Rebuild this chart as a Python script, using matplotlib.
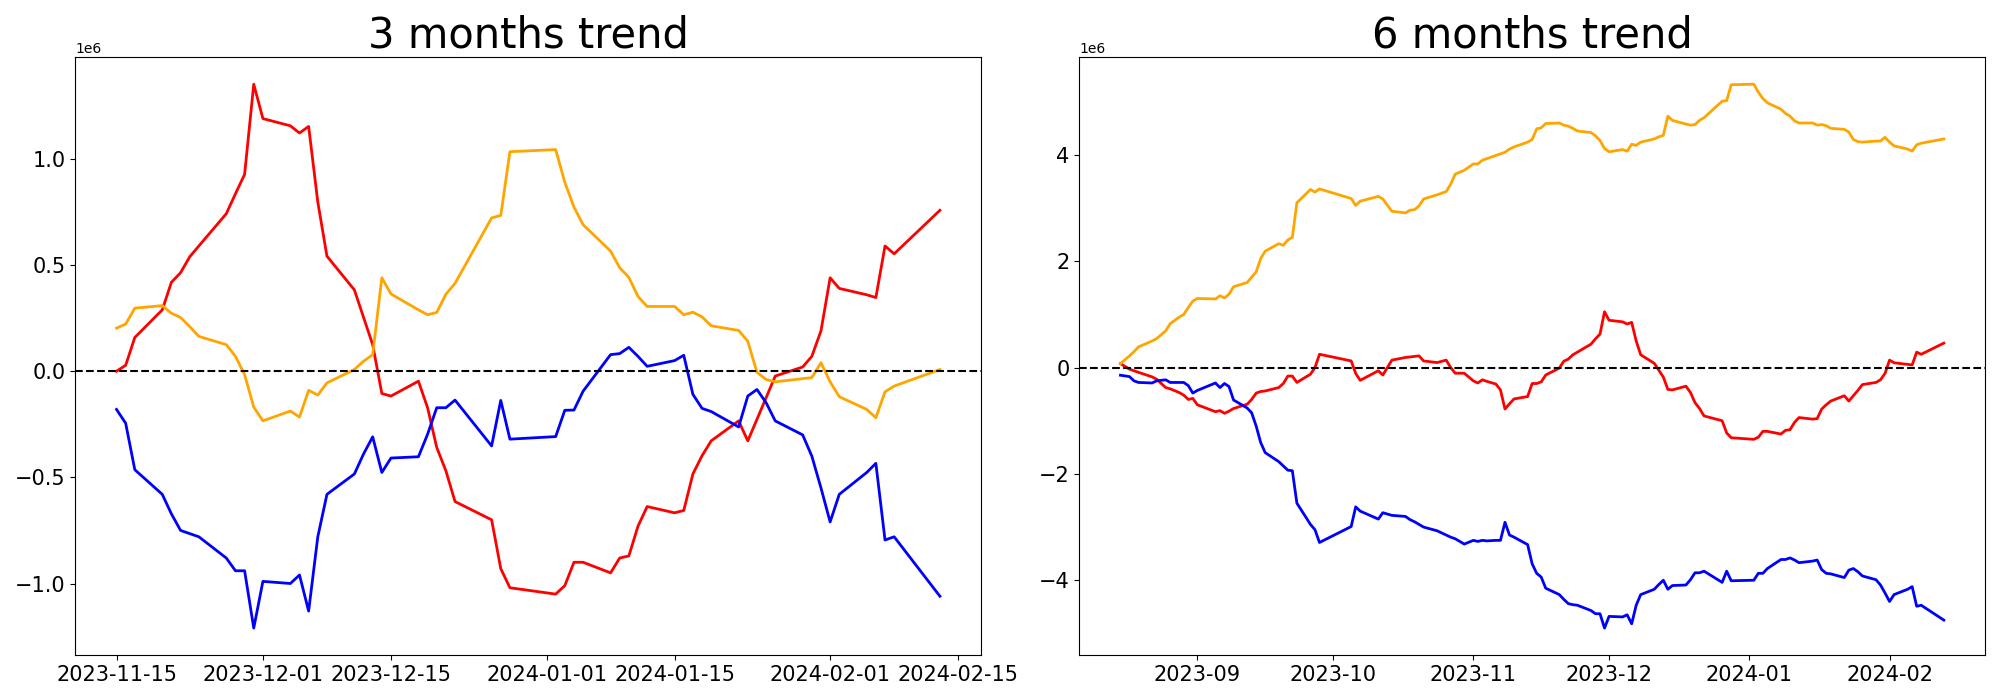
import numpy as np
import matplotlib
matplotlib.use("Agg")
import matplotlib.pyplot as plt

# ---------------- 3 months data (values in millions) ----------------
dates_3m = [
    "2023-11-15", "2023-11-16", "2023-11-17", "2023-11-20", "2023-11-21", "2023-11-22",
    "2023-11-23", "2023-11-24", "2023-11-27", "2023-11-28", "2023-11-29", "2023-11-30",
    "2023-12-01", "2023-12-04", "2023-12-05", "2023-12-06", "2023-12-07", "2023-12-08",
    "2023-12-11", "2023-12-12", "2023-12-13", "2023-12-14", "2023-12-15", "2023-12-18",
    "2023-12-19", "2023-12-20", "2023-12-21", "2023-12-22", "2023-12-26", "2023-12-27",
    "2023-12-28", "2024-01-02", "2024-01-03", "2024-01-04", "2024-01-05", "2024-01-08",
    "2024-01-09", "2024-01-10", "2024-01-11", "2024-01-12", "2024-01-15", "2024-01-16",
    "2024-01-17", "2024-01-18", "2024-01-19", "2024-01-22", "2024-01-23", "2024-01-24",
    "2024-01-25", "2024-01-26", "2024-01-29", "2024-01-30", "2024-01-31", "2024-02-01",
    "2024-02-02", "2024-02-05", "2024-02-06", "2024-02-07", "2024-02-08", "2024-02-13",
]
red_3m = [
    0.0, 0.028, 0.159, 0.289, 0.419, 0.464, 0.539, 0.59, 0.742, 0.836, 0.927, 1.352,
    1.19, 1.156, 1.122, 1.153, 0.797, 0.542, 0.383, 0.254, 0.125, -0.105, -0.117, -0.047,
    -0.172, -0.359, -0.469, -0.614, -0.70, -0.93, -1.02, -1.05, -1.01, -0.90, -0.90, -0.95,
    -0.88, -0.87, -0.73, -0.6375, -0.667, -0.656, -0.484, -0.398, -0.328, -0.234, -0.328, -0.227,
    -0.125, -0.023, 0.02, 0.07, 0.19, 0.44, 0.39, 0.36, 0.347, 0.59, 0.553, 0.758,
]
orange_3m = [
    0.203, 0.222, 0.297, 0.309, 0.273, 0.253, 0.21, 0.164, 0.125, 0.07, -0.016, -0.169,
    -0.234, -0.1875, -0.216, -0.09, -0.1125, -0.055, 0.008, 0.047, 0.078, 0.44, 0.364, 0.289,
    0.266, 0.277, 0.3625, 0.414, 0.722, 0.734, 1.034, 1.044, 0.89, 0.773, 0.69, 0.566,
    0.4875, 0.442, 0.352, 0.305, 0.305, 0.266, 0.278, 0.256, 0.214, 0.192, 0.141, -0.005,
    -0.039, -0.05, -0.035, -0.03, 0.04, -0.05, -0.12, -0.18, -0.219, -0.097, -0.07, 0.008,
]
blue_3m = [
    -0.18, -0.245, -0.464, -0.58, -0.672, -0.75, -0.765, -0.78, -0.88, -0.94, -0.94, -1.21,
    -0.99, -1.00, -0.96, -1.13, -0.78, -0.58, -0.484, -0.39, -0.309, -0.477, -0.409, -0.403,
    -0.297, -0.172, -0.172, -0.136, -0.352, -0.1375, -0.32, -0.308, -0.184, -0.183, -0.094, 0.078,
    0.083, 0.1125, 0.07, 0.023, 0.05, 0.075, -0.109, -0.175, -0.19, -0.2625, -0.117, -0.086,
    -0.148, -0.234, -0.30, -0.40, -0.55, -0.71, -0.58, -0.477, -0.434, -0.795, -0.78, -1.06,
]

# ---------------- 6 months data (values in millions) ----------------
dates_6m = [
    "2023-08-15", "2023-08-17", "2023-08-18", "2023-08-19", "2023-08-22", "2023-08-23",
    "2023-08-25", "2023-08-26", "2023-08-28", "2023-08-29", "2023-08-30", "2023-08-31",
    "2023-09-01", "2023-09-05", "2023-09-06", "2023-09-07", "2023-09-08", "2023-09-09",
    "2023-09-12", "2023-09-13", "2023-09-14", "2023-09-15", "2023-09-16", "2023-09-19",
    "2023-09-20", "2023-09-21", "2023-09-22", "2023-09-23", "2023-09-26", "2023-09-27",
    "2023-09-28", "2023-10-05", "2023-10-06", "2023-10-07", "2023-10-11", "2023-10-12",
    "2023-10-14", "2023-10-17", "2023-10-18", "2023-10-19", "2023-10-20", "2023-10-21",
    "2023-10-24", "2023-10-26", "2023-10-27", "2023-10-28", "2023-10-30", "2023-11-01",
    "2023-11-02", "2023-11-03", "2023-11-04", "2023-11-06", "2023-11-07", "2023-11-08",
    "2023-11-09", "2023-11-10", "2023-11-13", "2023-11-14",
] + dates_3m
red_6m = [
    0.075, -0.03, -0.06, -0.09, -0.175, -0.22, -0.376, -0.40, -0.47, -0.52, -0.60, -0.58,
    -0.70, -0.83, -0.81, -0.86, -0.82, -0.77, -0.69, -0.60, -0.48, -0.45, -0.44, -0.376,
    -0.30, -0.16, -0.16, -0.28, -0.125, 0.0, 0.25, 0.125, -0.11, -0.24, -0.06, -0.14,
    0.14, 0.19, 0.20, 0.21, 0.22, 0.125, 0.094, 0.14, 0.0, -0.106, -0.106, -0.25,
    -0.29, -0.23, -0.26, -0.31, -0.42, -0.78, -0.68, -0.59, -0.545, -0.30,
    -0.30, -0.27, -0.14, -0.01, 0.12, 0.16, 0.24, 0.29, 0.44, 0.54, 0.63, 1.05,
    0.89, 0.86, 0.82, 0.85, 0.50, 0.24, 0.08, -0.05, -0.18, -0.41, -0.42, -0.35,
    -0.47, -0.66, -0.77, -0.91, -1.00, -1.23, -1.32, -1.35, -1.31, -1.20, -1.20, -1.25,
    -1.18, -1.17, -1.03, -0.94, -0.97, -0.96, -0.78, -0.70, -0.63, -0.53, -0.63, -0.53,
    -0.43, -0.32, -0.28, -0.23, -0.11, 0.14, 0.09, 0.06, 0.05, 0.29, 0.25, 0.46,
]
orange_6m = [
    0.075, 0.22, 0.30, 0.39, 0.50, 0.545, 0.69, 0.826, 0.95, 1.0, 1.13, 1.25,
    1.30, 1.29, 1.35, 1.31, 1.38, 1.52, 1.60, 1.70, 1.80, 2.05, 2.19, 2.33,
    2.30, 2.40, 2.45, 3.10, 3.35, 3.30, 3.36, 3.18, 3.05, 3.13, 3.22, 3.17,
    2.94, 2.91, 2.96, 2.97, 3.04, 3.17, 3.25, 3.31, 3.45, 3.64, 3.71, 3.83,
    3.83, 3.90, 3.93, 3.99, 4.02, 4.05, 4.11, 4.15, 4.24, 4.29,
    4.49, 4.51, 4.59, 4.60, 4.56, 4.54, 4.50, 4.45, 4.42, 4.36, 4.27, 4.12,
    4.06, 4.10, 4.07, 4.20, 4.18, 4.24, 4.30, 4.34, 4.37, 4.73, 4.65, 4.58,
    4.56, 4.57, 4.65, 4.70, 5.01, 5.02, 5.32, 5.33, 5.18, 5.06, 4.98, 4.86,
    4.78, 4.73, 4.64, 4.60, 4.60, 4.56, 4.57, 4.55, 4.50, 4.48, 4.43, 4.29,
    4.25, 4.24, 4.26, 4.26, 4.33, 4.24, 4.17, 4.11, 4.07, 4.19, 4.22, 4.30,
]
blue_6m = [
    -0.144, -0.17, -0.25, -0.28, -0.29, -0.25, -0.23, -0.28, -0.28, -0.28, -0.34, -0.48,
    -0.43, -0.29, -0.376, -0.30, -0.357, -0.61, -0.76, -0.85, -1.10, -1.41, -1.60, -1.77,
    -1.85, -1.93, -1.94, -2.55, -2.95, -3.05, -3.29, -2.99, -2.62, -2.70, -2.85, -2.73,
    -2.78, -2.80, -2.86, -2.90, -2.95, -3.00, -3.07, -3.15, -3.19, -3.22, -3.32, -3.25,
    -3.27, -3.25, -3.26, -3.25, -3.25, -2.91, -3.15, -3.19, -3.33, -3.69,
    -3.87, -3.94, -4.15, -4.27, -4.36, -4.44, -4.46, -4.47, -4.57, -4.63, -4.63, -4.90,
    -4.68, -4.69, -4.65, -4.82, -4.47, -4.27, -4.17, -4.08, -4.00, -4.17, -4.10, -4.09,
    -3.99, -3.86, -3.86, -3.83, -4.04, -3.83, -4.01, -4.00, -3.87, -3.87, -3.78, -3.61,
    -3.61, -3.58, -3.62, -3.67, -3.64, -3.62, -3.80, -3.87, -3.88, -3.95, -3.81, -3.78,
    -3.84, -3.92, -3.99, -4.09, -4.24, -4.40, -4.27, -4.17, -4.12, -4.49, -4.47, -4.75,
]

titles = ["3 months trend", "6 months trend"]
SCALE = 1e6

fig, axes = plt.subplots(1, 2, figsize=(20, 7), dpi=100)
panels = [
    (dates_3m, red_3m, orange_3m, blue_3m),
    (dates_6m, red_6m, orange_6m, blue_6m),
]
for ax, title, (dates, r, o, b) in zip(axes, titles, panels):
    x = np.array(dates, dtype="datetime64[D]")
    ax.plot(x, np.array(r) * SCALE, color="red", linewidth=2)
    ax.plot(x, np.array(o) * SCALE, color="orange", linewidth=2)
    ax.plot(x, np.array(b) * SCALE, color="blue", linewidth=2)
    ax.axhline(0, color="black", linestyle="--", linewidth=1.5)
    ax.set_title(title, fontsize=30)
    ax.tick_params(axis="both", labelsize=15)

plt.tight_layout()
fig.savefig("out.png", dpi=100)
